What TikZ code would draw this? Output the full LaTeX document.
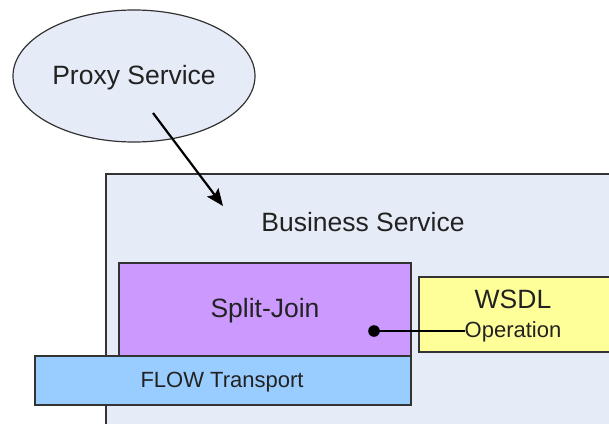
\documentclass[tikz,border=0pt]{standalone}
\usepackage{fontspec}
\setmainfont{Liberation Sans}
\usetikzlibrary{arrows.meta,calc}
\definecolor{bg}{HTML}{E6ECF7}
\definecolor{edge}{HTML}{333333}
\definecolor{txt}{HTML}{222222}
\definecolor{violetfill}{HTML}{CC99FF}
\definecolor{bluefill}{HTML}{99CCFF}
\definecolor{yellowfill}{HTML}{FFFF99}
\tikzset{
  box/.style={draw=edge, line width=1.2pt, inner sep=0pt},
  big/.style={text=txt, font=\fontsize{26.5}{30}\selectfont, inner sep=0pt, anchor=base},
  small/.style={text=txt, font=\fontsize{22}{26}\selectfont, inner sep=0pt, anchor=base},
}
\begin{document}
\begin{tikzpicture}[x=1pt,y=-1pt]
\useasboundingbox (0,0) rectangle (609,423);
\clip (0,0) rectangle (609,423);
% Business service container
\draw[box, fill=bg] (106,174) rectangle (615,430);
\node[big] (bs) at (363,231) {Business Service};
% Proxy ellipse
\draw[box, fill=bg] (134,76) ellipse [x radius=121, y radius=66];
\node[big] (proxy) at (134,84) {Proxy Service};
% Split-Join
\draw[box, fill=violetfill] (119,263) rectangle (411,356);
\node[big] (sj) at (265,317) {Split-Join};
% FLOW transport
\draw[box, fill=bluefill] (35,356) rectangle (411,405);
\node[small] (flow) at (222,387) {FLOW Transport};
% WSDL
\draw[box, fill=yellowfill] (419,277) rectangle (615,352);
\node[big] (wsdl) at (513,308) {WSDL};
\node[small] (op) at (513,337) {Operation};
% connectors
\coordinate (a1) at (153,113);
\coordinate (a2) at (223,206);
\draw[line width=2.2pt, draw=black, -{Stealth[length=17pt,width=14pt,inset=3pt]}] (a1) -- (a2);
\coordinate (dot) at (374,331);
\fill[black] (dot) circle (5.8);
\draw[line width=2.2pt, black] (dot) -- (op.west |- dot);
\end{tikzpicture}
\end{document}
